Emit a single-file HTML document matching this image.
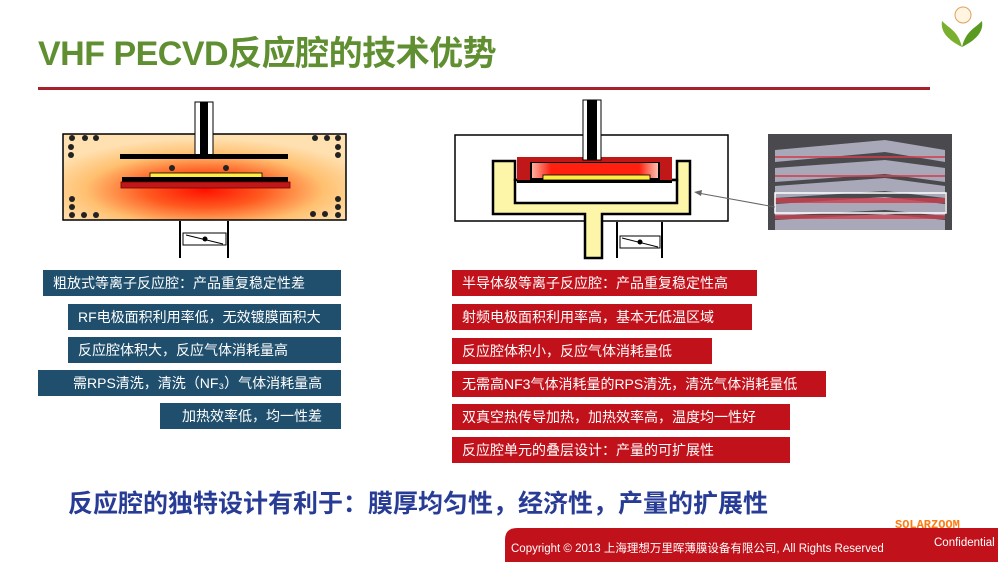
<!DOCTYPE html><html><head><meta charset="utf-8"><style>
body{margin:0;width:998px;height:562px;background:#fff;position:relative;overflow:hidden;font-family:"Liberation Sans","Noto Sans CJK SC",sans-serif}
.t{position:absolute;left:38px;top:26px;font-size:34px;font-weight:bold;color:#5f8f30;letter-spacing:-0.5px}
.b{position:absolute;height:26px;line-height:26px;color:#fff;font-size:14px;box-sizing:border-box;padding-left:10px}
.l{background:#1f4f6d;right:657px}
.r{background:#c1111b;left:452px}
</style></head><body>
<div class="t">VHF PECVD反应腔的技术优势</div>
<div style="position:absolute;left:38px;top:87px;width:892px;height:3px;background:#a8202a"></div>
<svg width="998" height="562" style="position:absolute;left:0;top:0">
<defs><radialGradient id="g" cx="50%" cy="65%" r="60%"><stop offset="0" stop-color="#ff1000"/><stop offset="0.35" stop-color="#ff5a20"/><stop offset="0.7" stop-color="#ffc070"/><stop offset="1" stop-color="#ffe0b0"/></radialGradient>
<linearGradient id="h" x1="0" x2="1"><stop offset="0" stop-color="#ffb0a0"/><stop offset="0.15" stop-color="#ff2010"/><stop offset="0.85" stop-color="#ff2010"/><stop offset="1" stop-color="#ffc0b0"/></linearGradient></defs>
<rect x="63" y="134" width="283" height="86" fill="url(#g)" stroke="#000" stroke-width="1.5"/>
<rect x="195" y="102" width="18" height="54" fill="#fff" stroke="#000"/><rect x="200" y="102" width="8" height="54" fill="#000"/>
<rect x="120" y="154" width="168" height="5" fill="#000"/>
<rect x="150" y="173" width="112" height="5" fill="#ffee40" stroke="#000" stroke-width="0.8"/>
<rect x="122" y="177" width="166" height="5" fill="#000"/>
<rect x="121" y="182" width="169" height="6" fill="#c01818" stroke="#700" stroke-width="0.8"/>
<g fill="#222"><circle cx="72" cy="138" r="3"/><circle cx="85" cy="138" r="3"/><circle cx="96" cy="138" r="3"/><circle cx="71" cy="147" r="3"/><circle cx="71" cy="155" r="3"/><circle cx="72" cy="199" r="3"/><circle cx="72" cy="207" r="3"/><circle cx="72" cy="215" r="3"/><circle cx="84" cy="215" r="3"/><circle cx="96" cy="215" r="3"/><circle cx="315" cy="138" r="3"/><circle cx="327" cy="138" r="3"/><circle cx="338" cy="138" r="3"/><circle cx="338" cy="147" r="3"/><circle cx="338" cy="155" r="3"/><circle cx="338" cy="199" r="3"/><circle cx="338" cy="207" r="3"/><circle cx="338" cy="215" r="3"/><circle cx="325" cy="214" r="3"/><circle cx="313" cy="214" r="3"/><circle cx="172" cy="168" r="3"/><circle cx="226" cy="168" r="3"/></g>
<line x1="180" y1="221" x2="180" y2="258" stroke="#000" stroke-width="2"/><line x1="228" y1="221" x2="228" y2="258" stroke="#000" stroke-width="2"/>
<rect x="183" y="233" width="43" height="12" fill="#fff" stroke="#000"/><line x1="186" y1="235" x2="223" y2="244" stroke="#000"/><circle cx="205" cy="239" r="2.5"/>
<rect x="455" y="135" width="273" height="86" fill="#fff" stroke="#000" stroke-width="1.5"/>
<path d="M493 161H515V180H677V161H690V214H602V258H585V214H493Z" fill="#fdf6a8" stroke="#000" stroke-width="2.5"/>
<rect x="515" y="180" width="162" height="23" fill="#fff" stroke="#000" stroke-width="2.5"/>
<rect x="517" y="157" width="155" height="26" fill="#c01818"/><rect x="530" y="162" width="130" height="18" fill="#000"/>
<rect x="532" y="163" width="126" height="15" fill="url(#h)"/>
<rect x="543" y="175" width="107" height="5" fill="#ffee40" stroke="#000" stroke-width="0.8"/>
<rect x="517" y="180" width="155" height="3" fill="#000"/>
<rect x="583" y="100" width="18" height="60" fill="#fff" stroke="#000"/><rect x="587" y="100" width="10" height="60" fill="#000"/>
<line x1="617" y1="222" x2="617" y2="258" stroke="#000" stroke-width="2"/><line x1="662" y1="222" x2="662" y2="258" stroke="#000" stroke-width="2"/>
<rect x="620" y="236" width="40" height="12" fill="#fff" stroke="#000"/><line x1="622" y1="238" x2="658" y2="247" stroke="#000"/><circle cx="640" cy="242" r="2.5"/>
<rect x="768" y="134" width="184" height="96" fill="#4a4a4e"/>
<g fill="#a8a8b8"><polygon points="775,150 885,140 945,150 945,162 885,152 775,162"/><polygon points="775,168 885,160 945,168 945,182 885,174 775,182"/><polygon points="775,186 885,178 945,186 945,198 885,191 775,198"/><polygon points="775,204 885,197 945,204 945,216 885,210 775,216"/><polygon points="775,220 885,214 945,220 945,230 775,230"/></g>
<g fill="#d04050" opacity="0.8"><rect x="775" y="156" width="170" height="2"/><rect x="775" y="175" width="170" height="2"/><rect x="775" y="198" width="170" height="5"/><rect x="775" y="215" width="170" height="4"/></g>
<rect x="775" y="193" width="171" height="20" fill="none" stroke="#fff" stroke-width="1.5"/>
<line x1="775" y1="207" x2="698" y2="193" stroke="#666"/><polygon points="694,192 702,190 701,196" fill="#666"/>
<circle cx="963" cy="15" r="8" fill="#fff5e0" stroke="#e0a060"/>
<path d="M962 47C950 41 940 33 942 21C950 29 958 31 962 47Z" fill="#7ab030"/><path d="M962 47C974 41 984 33 982 21C974 29 966 31 962 47Z" fill="#5a9a20"/>
<path d="M505 562V540Q505 528 517 528H998V562Z" fill="#c1111b"/>
</svg>
<div class="b l" style="left:43px;top:270px">粗放式等离子反应腔：产品重复稳定性差</div>
<div class="b l" style="left:68px;top:304px">RF电极面积利用率低，无效镀膜面积大</div>
<div class="b l" style="left:68px;top:337px">反应腔体积大，反应气体消耗量高</div>
<div class="b l" style="left:38px;top:370px;padding-left:35px">需RPS清洗，清洗（NF₃）气体消耗量高</div>
<div class="b l" style="left:160px;top:403px;padding-left:22px">加热效率低，均一性差</div>
<div class="b r" style="width:305px;top:270px">半导体级等离子反应腔：产品重复稳定性高</div>
<div class="b r" style="width:300px;top:304px">射频电极面积利用率高，基本无低温区域</div>
<div class="b r" style="width:260px;top:338px">反应腔体积小，反应气体消耗量低</div>
<div class="b r" style="width:374px;top:371px">无需高NF3气体消耗量的RPS清洗，清洗气体消耗量低</div>
<div class="b r" style="width:338px;top:404px">双真空热传导加热，加热效率高，温度均一性好</div>
<div class="b r" style="width:338px;top:437px">反应腔单元的叠层设计：产量的可扩展性</div>
<div style="position:absolute;left:68px;top:484px;font-size:25px;font-weight:bold;color:#283c96">反应腔的独特设计有利于：膜厚均匀性，经济性，产量的扩展性</div>
<div style="position:absolute;left:895px;top:518px;font-size:12px;color:#ff7a10;font-family:'Liberation Mono',monospace;font-weight:bold">SOLARZOOM</div>
<div style="position:absolute;left:511px;top:540px;font-size:11.5px;color:#fff">Copyright © 2013 上海理想万里晖薄膜设备有限公司, All Rights Reserved</div>
<div style="position:absolute;left:934px;top:537px;font-size:11.5px;color:#fff">Confidential</div>
</body></html>
